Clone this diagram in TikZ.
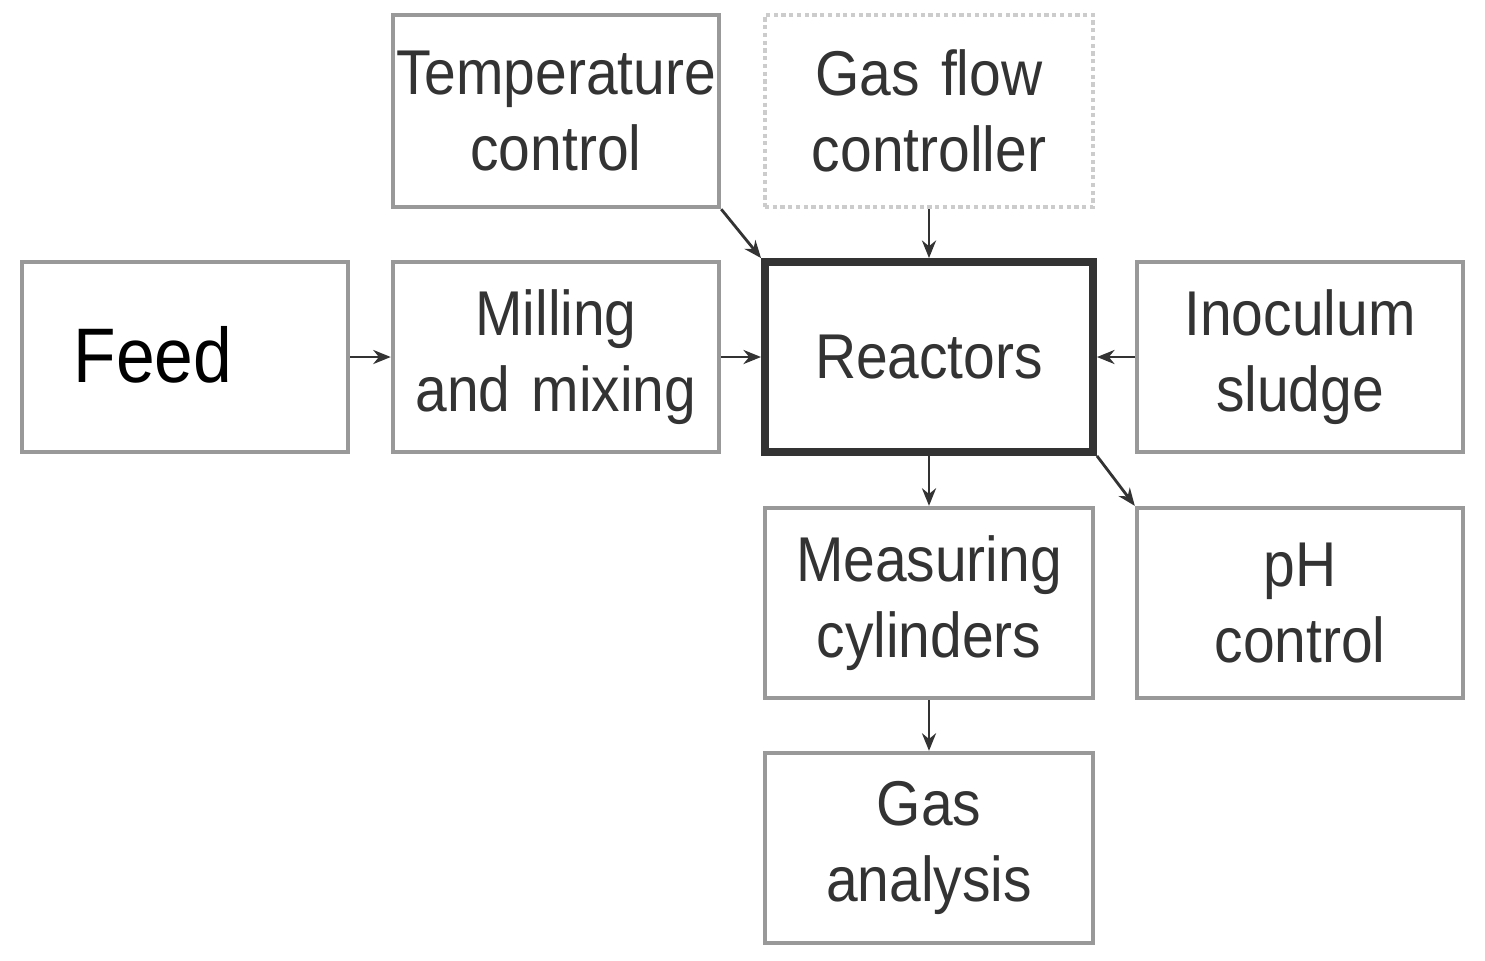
\documentclass[tikz,border=0pt]{standalone}
\usepackage{fontspec}
\setmainfont{Liberation Sans}[FakeStretch=0.9]
\usetikzlibrary{arrows.meta}
\definecolor{bord}{gray}{0.6}
\definecolor{txt}{gray}{0.2}
\begin{document}
\begin{tikzpicture}[x=0.01cm,y=-0.01cm,
 box/.style={draw=bord,line width=1.2pt,text width=3.26cm,minimum height=1.9cm,inner sep=0pt,align=center,text=txt,font=\fontsize{18}{21.5}\selectfont},
 arr/.style={draw=txt,line width=0.8pt,-{Stealth[length=5pt,width=4pt]}}]
\useasboundingbox (0,0) rectangle (1485,960);
\node[box] (feed) at (185,357) {};
\node[font=\fontsize{22}{26}\selectfont,text=black] at (153,355) {Feed};
\node[box] (mill) at (556,357) {Milling\\and mixing};
\node[box,minimum height=1.92cm] (temp) at (556,111) {Temperature\\control};
\node[box,draw=gray!40,densely dotted,text width=3.28cm,minimum height=1.92cm] (gas) at (929,111) {Gas flow\\controller};
\node[box,draw=txt,line width=2.2pt,text width=3.28cm] (reac) at (929,357) {Reactors};
\node[box] (inoc) at (1300,357) {Inoculum\\sludge};
\node[box,text width=3.28cm] (meas) at (929,603) {Measuring\\cylinders};
\node[box] (ph) at (1300,603) {pH\\control};
\node[box,text width=3.28cm] (ana) at (929,848) {Gas\\analysis};
\draw[arr] (feed) -- (mill);
\draw[arr] (mill) -- (reac);
\draw[arr] (temp.south east) -- (reac.north west);
\draw[arr] (gas) -- (reac);
\draw[arr] (inoc) -- (reac);
\draw[arr] (reac.south east) -- (ph.north west);
\draw[arr] (reac) -- (meas);
\draw[arr] (meas) -- (ana);
\end{tikzpicture}
\end{document}
